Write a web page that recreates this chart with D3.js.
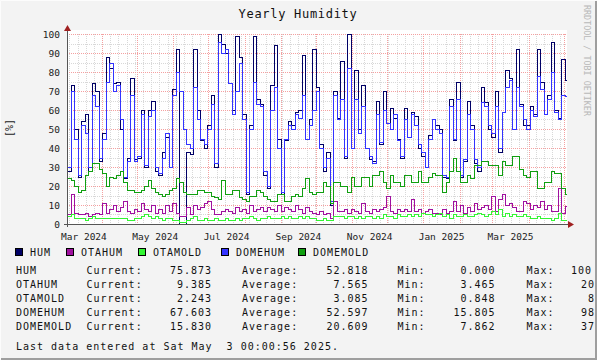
<!DOCTYPE html>
<html><head><meta charset="utf-8">
<script src="https://cdn.jsdelivr.net/npm/d3@7"></script>
<style>
html,body{margin:0;padding:0;background:#f3f3f3;}
svg{display:block;}
text{font-family:"DejaVu Sans Mono",monospace;}
</style></head>
<body>
<svg id="chart" width="597" height="360"></svg>
<script>
// ---------------- data ----------------
const startDate = new Date(2024, 2, 2);
const endDate = new Date(2025, 4, 3, 0, 0, 56);
const stepDays = 3;

const HUM = [28,73,50,25,54,58,28,74,70,33,48,88,82,74,75,50,24,35,77,34,35,60,30,60,65,28,26,38,46,30,71,92,0,0,38,37,92,60,44,40,52,68,30,100,95,90,74,60,99,88,58,16,52,99,66,63,26,19,73,94,45,16,44,54,52,59,60,89,45,55,92,72,42,28,38,10,70,56,86,35,100,40,81,50,73,40,34,33,65,42,70,53,61,56,45,35,61,46,59,57,40,36,30,47,55,52,50,25,24,66,44,75,25,33,65,52,32,28,72,64,50,46,70,38,59,81,77,50,92,63,52,52,62,58,92,75,58,68,96,60,56,87,75.873];
const OTAHUM = [5,16,6,5,5,6,4,5,6,5,11,6,8,10,7,9,12,7,6,8,7,11,8,7,10,6,8,6,10,7,11,6,4,4,9,5,10,8,9,11,12,8,5,5,7,8,7,6,9,7,8,6,10,7,8,9,7,9,8,7,10,7,9,8,7,10,8,6,9,7,6,5,7,5,6,3,12,7,7,8,6,8,7,6,11,7,6,8,7,8,9,15,7,6,8,7,8,7,13,7,8,6,7,8,6,6,5,8,6,7,12,7,10,6,9,7,11,8,9,10,8,15,7,13,16,10,11,9,7,7,12,11,8,10,9,12,8,10,7,7,19,6,9.385];
const OTAMOLD = [4,5,3,3,3,2,3,4,3,3,3,3,3,3,3,3,3,2,2,3,3,4,5,4,3,4,3,2,3,3,2,2,1,1,2,3,4,2,2,3,2,2,3,2,2,3,2,2,3,2,3,3,4,3,2,3,3,4,3,3,3,4,3,4,3,3,4,3,4,3,3,2,2,3,2,2,4,4,4,3,4,4,3,4,3,4,4,3,4,3,5,4,4,3,5,4,4,5,4,5,4,6,5,5,4,5,6,4,5,3,5,4,4,5,4,4,5,6,5,4,5,7,5,8,4,6,4,5,4,4,5,4,3,3,4,3,3,3,2,3,6,2,2.243];
const DOMEHUM = [30,70,45,26,52,48,30,68,62,35,45,75,85,70,73,55,25,33,68,33,36,58,31,57,60,30,27,35,48,30,68,80,70,50,42,40,72,55,45,42,50,63,32,96,90,92,74,58,70,85,55,17,50,75,63,62,28,20,60,72,40,17,45,52,50,58,56,68,45,52,60,70,40,30,35,12,68,55,66,36,82,40,66,48,62,40,36,32,58,43,60,53,50,58,44,36,55,46,58,52,42,38,30,45,55,50,48,26,25,62,45,66,26,34,58,50,34,30,64,62,52,48,62,40,59,72,76,50,72,62,55,50,60,57,78,71,58,66,80,59,55,68,67.603];
const DOMEMOLD = [24,23,20,17,18,26,28,32,32,29,27,20,25,24,26,28,22,18,18,17,17,18,20,23,19,17,16,15,16,18,19,24,22,17,16,16,16,18,18,17,17,15,14,13,23,16,16,18,18,14,13,12,15,15,18,17,15,13,12,12,16,16,12,12,15,16,15,19,24,17,16,17,17,22,20,11,22,22,20,20,17,25,20,20,25,25,20,26,26,28,22,19,26,22,22,20,26,26,22,22,28,22,22,25,27,26,26,17,22,28,35,28,22,22,26,24,31,31,33,33,31,31,31,26,33,31,31,36,36,29,26,25,28,28,19,19,22,22,28,27,27,19,15.830];

const seriesNames = ["HUM","OTAHUM","OTAMOLD","DOMEHUM","DOMEMOLD"];
const seriesColors = ["#000066","#a0109f","#33f533","#3333ff","#109f10"];
const seriesValues = [HUM, OTAHUM, OTAMOLD, DOMEHUM, DOMEMOLD];

const currentVals = ["75.873","9.385","2.243","67.603","15.830"];
const averageVals = ["52.818","7.565","3.085","52.597","20.609"];
const minVals = ["0.000","3.465","0.848","15.805","7.862"];
const maxVals = ["100","20","8","98","37"];

const yTicks = [0,10,20,30,40,50,60,70,80,90,100];
const monthLabels = ["Mar 2024","May 2024","Jul 2024","Sep 2024","Nov 2024","Jan 2025","Mar 2025"];
const monthLabelDates = [new Date(2024,2,1),new Date(2024,4,1),new Date(2024,6,1),new Date(2024,8,1),new Date(2024,10,1),new Date(2025,0,1),new Date(2025,2,1)];

// ---------------- drawing ----------------
const W = 597, H = 360;
const svg = d3.select("#chart");
const X0 = 67, X1 = 566, Y0 = 224, Y1 = 34;

svg.append("rect").attr("x",0).attr("y",0).attr("width",W).attr("height",H).attr("fill","#f3f3f3");
// border
svg.append("path").attr("d",`M0.5,${H-0.5}V0.5H${W-0.5}`).attr("fill","none").attr("stroke","#fcfcfc").attr("stroke-width",1);
svg.append("path").attr("d",`M1,${H-1}H${W-1}V1`).attr("fill","none").attr("stroke","#9e9e9e").attr("stroke-width",2);

const x = d3.scaleTime().domain([startDate,endDate]).range([X0,X1]);
const y = d3.scaleLinear().domain([0,100]).range([Y0,Y1]);

// canvas
svg.append("rect").attr("x",X0).attr("y",Y1-4).attr("width",X1-X0+1).attr("height",Y0-Y1+4).attr("fill","#ffffff");

const g = svg.append("g").attr("shape-rendering","crispEdges");
// minor grid: horizontal every 5
d3.range(5,101,10).forEach(v=>{
  g.append("line").attr("x1",X0).attr("x2",X1).attr("y1",Math.round(y(v))+0.5).attr("y2",Math.round(y(v))+0.5)
   .attr("stroke","#d8d8d8").attr("stroke-dasharray","1,1");
});
// minor grid: weekly (Mondays)
d3.timeMonday.range(startDate,endDate).forEach(d=>{
  const xx = Math.round(x(d))+0.5;
  if (xx<=X0+1) return;
  g.append("line").attr("x1",xx).attr("x2",xx).attr("y1",Y1).attr("y2",Y0)
   .attr("stroke","#d8d8d8").attr("stroke-dasharray","1,1");
});
// major grid: horizontal every 10
yTicks.forEach(v=>{
  if (v===0) return;
  g.append("line").attr("x1",X0).attr("x2",X1).attr("y1",Math.round(y(v))+0.5).attr("y2",Math.round(y(v))+0.5)
   .attr("stroke","#f4a0a0").attr("stroke-dasharray","1,1");
});
// major grid: monthly
d3.timeMonth.range(startDate,endDate).forEach(d=>{
  const xx = Math.round(x(d))+0.5;
  if (xx<=X0+1) return;
  g.append("line").attr("x1",xx).attr("x2",xx).attr("y1",Y1).attr("y2",Y0)
   .attr("stroke","#f4a0a0").attr("stroke-dasharray","1,1");
});

// series lines
const line = d3.line().x(d=>Math.round(x(d[0]))+0.5).y(d=>Math.round(y(d[1]))+0.5).curve(d3.curveStepAfter);
seriesValues.forEach((vals,k)=>{
  const pts = vals.map((v,i)=>[d3.timeDay.offset(startDate,i*stepDays),v]);
  pts.push([endDate, vals[vals.length-1]]);
  g.append("path").attr("d",line(pts)).attr("fill","none").attr("stroke",seriesColors[k]).attr("stroke-width",1);
});

// axes
g.append("line").attr("x1",X0-3).attr("x2",X1+3).attr("y1",Y0+0.5).attr("y2",Y0+0.5).attr("stroke","#555");
g.append("line").attr("x1",X0+0.5).attr("x2",X0+0.5).attr("y1",Y0+3).attr("y2",Y1-4).attr("stroke","#555");
svg.append("path").attr("d",`M${X1+2},${Y0-3}L${X1+8},${Y0+0.5}L${X1+2},${Y0+4}Z`).attr("fill","#a02020");
svg.append("path").attr("d",`M${X0-3},${Y1-3}L${X0+0.5},${Y1-9}L${X0+4},${Y1-3}Z`).attr("fill","#a02020");

// y tick labels
yTicks.forEach(v=>{
  svg.append("text").attr("x",60).attr("y",y(v)+3.5).attr("text-anchor","end")
    .attr("font-size",9.5).attr("fill","#222").text(v);
});
// x labels (centered mid month)
monthLabels.forEach((lab,i)=>{
  const d0 = monthLabelDates[i], d1 = d3.timeMonth.offset(d0,1);
  const xm = (x(d0)+x(d1))/2;
  svg.append("text").attr("x",xm).attr("y",Y0+16).attr("text-anchor","middle")
    .attr("font-size",9.5).attr("fill","#222").text(lab);
});

// title
svg.append("text").attr("x",298).attr("y",18).attr("text-anchor","middle").attr("font-size",12)
  .attr("letter-spacing",0.7).attr("fill","#111").text("Yearly Humidity");
// y title
svg.append("text").attr("transform","translate(13,128) rotate(-90)").attr("text-anchor","middle")
  .attr("font-size",10).attr("fill","#222").text("[%]");
// watermark
svg.append("text").attr("transform","translate(584,5) rotate(90)").attr("text-anchor","start")
  .attr("font-size",8.4).attr("fill","#b8b8b8").text("RRDTOOL / TOBI OETIKER");

// legend
const legX = [15,66,138,221,298];
seriesNames.forEach((n,k)=>{
  svg.append("rect").attr("x",legX[k]+0.5).attr("y",248.5).attr("width",7).attr("height",7)
    .attr("fill",seriesColors[k]).attr("stroke","#000").attr("stroke-width",1);
  svg.append("text").attr("x",legX[k]+15).attr("y",256).attr("font-size",10).attr("letter-spacing",1)
    .attr("fill","#111").text(n);
});
// stats
const rowY = [274,288,302,316,330];
const fs = 10, ls = 1;
seriesNames.forEach((n,k)=>{
  const ry = rowY[k];
  const t = (xx,s,anchor)=>svg.append("text").attr("x",xx).attr("y",ry).attr("font-size",fs)
     .attr("letter-spacing",ls).attr("text-anchor",anchor||"start").attr("fill","#111").text(s);
  t(16,n);
  t(86.5,"Current:");
  t(212,currentVals[k],"end");
  t(242,"Average:");
  t(368.5,averageVals[k],"end");
  t(397.5,"Min:");
  t(495.5,minVals[k],"end");
  t(526.5,"Max:");
  t(597-maxVals[k].length*7+ (k===0?-5:0) - (k===0?0:2), maxVals[k]);
});
svg.append("text").attr("x",16).attr("y",350).attr("font-size",fs).attr("letter-spacing",ls)
  .attr("fill","#111").attr("xml:space","preserve").style("white-space","pre")
  .text("Last data entered at Sat May  3 00:00:56 2025.");
</script>
</body></html>
